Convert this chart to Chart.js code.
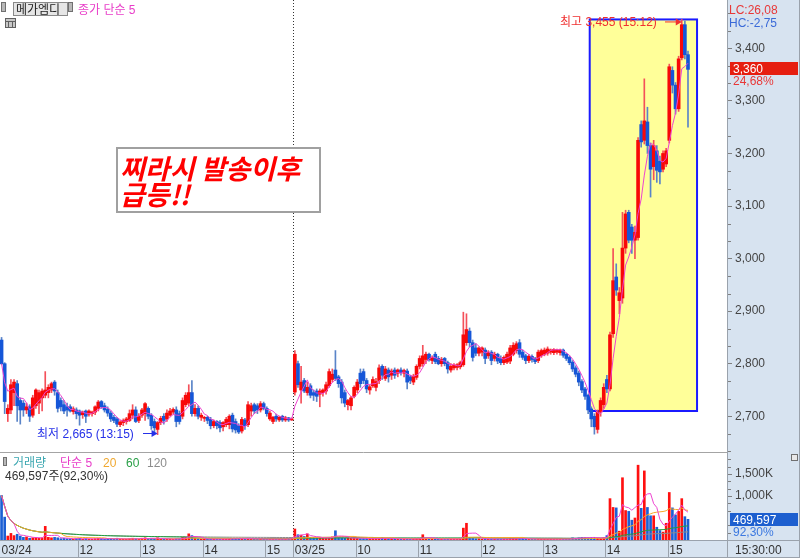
<!DOCTYPE html>
<html><head><meta charset="utf-8">
<script src="https://cdn.jsdelivr.net/npm/chart.js@4.4.1/dist/chart.umd.min.js"></script>
<style>html,body{margin:0;padding:0;background:#fff;overflow:hidden}canvas{display:block}</style>
</head><body>
<canvas id="c" width="800" height="558"></canvas>
<script>
// ---------------- DATA ----------------
const day1Times = [
'10:45','10:48','10:51','10:54','10:57',
'11:00','11:03','11:06','11:09','11:12','11:15','11:18','11:21','11:24','11:27','11:30','11:33','11:36','11:39','11:42','11:45','11:48','11:51','11:54','11:57',
'12:00','12:03','12:06','12:09','12:12','12:15','12:18','12:21','12:24','12:27','12:30','12:33','12:36','12:39','12:42','12:45','12:48','12:51','12:54','12:57',
'13:00','13:03','13:06','13:09','13:12','13:15','13:18','13:21','13:24','13:27','13:30','13:33','13:36','13:39','13:42','13:45','13:48','13:51','13:54','13:57',
'14:00','14:03','14:06','14:09','14:12','14:15','14:18','14:21','14:24','14:27','14:30','14:33','14:36','14:39','14:42','14:45','14:48','14:51','14:54','14:57',
'15:00','15:03','15:06','15:09','15:12','15:15','15:18','15:20','15:30'];
const day2Times = [
'09:00','09:03','09:06','09:09','09:12','09:15','09:18','09:21','09:24','09:27','09:30','09:33','09:36','09:39','09:42','09:45','09:48','09:51','09:54','09:57',
'10:00','10:03','10:06','10:09','10:12','10:15','10:18','10:21','10:24','10:27','10:30','10:33','10:36','10:39','10:42','10:45','10:48','10:51','10:54','10:57',
'11:00','11:03','11:06','11:09','11:12','11:15','11:18','11:21','11:24','11:27','11:30','11:33','11:36','11:39','11:42','11:45','11:48','11:51','11:54','11:57',
'12:00','12:03','12:06','12:09','12:12','12:15','12:18','12:21','12:24','12:27','12:30','12:33','12:36','12:39','12:42','12:45','12:48','12:51','12:54','12:57',
'13:00','13:03','13:06','13:09','13:12','13:15','13:18','13:21','13:24','13:27','13:30','13:33','13:36','13:39','13:42','13:45','13:48','13:51','13:54','13:57',
'14:00','14:03','14:06','14:09','14:12','14:15','14:18','14:21','14:24','14:27','14:30','14:33','14:36','14:39','14:42','14:45','14:48','14:51','14:54','14:57',
'15:00','15:03','15:06','15:09','15:12','15:15','15:18'];

// [open, high, low, close]
const day1Candles = [
[2845,2850,2798,2800],[2800,2802,2705,2728],[2705,2722,2690,2715],[2712,2770,2705,2760],[2745,2770,2720,2765],
[2762,2768,2690,2720],[2730,2735,2685,2712],[2725,2730,2700,2712],[2712,2725,2705,2718],[2718,2722,2690,2700],
[2702,2740,2698,2735],[2720,2752,2715,2750],[2725,2750,2705,2745],[2735,2752,2710,2748],[2740,2785,2735,2750],
[2745,2760,2735,2755],[2750,2765,2745,2762],[2765,2768,2740,2748],[2745,2750,2708,2715],[2730,2735,2710,2718],
[2722,2730,2705,2710],[2718,2725,2700,2712],[2718,2722,2708,2710],[2709,2718,2704,2714],[2712,2716,2695,2705],
[2710,2712,2683,2702],[2703,2710,2696,2708],[2710,2712,2688,2700],[2704,2712,2700,2710],[2705,2710,2700,2708],
[2708,2720,2703,2718],[2715,2730,2710,2727],[2728,2730,2715,2718],[2720,2725,2708,2712],[2713,2718,2700,2706],
[2706,2710,2690,2695],[2698,2702,2688,2692],[2695,2698,2680,2685],[2684,2692,2680,2689],[2688,2695,2682,2692],
[2690,2698,2685,2695],[2692,2712,2690,2705],[2702,2722,2695,2712],[2712,2718,2688,2690],[2692,2705,2688,2700],
[2702,2715,2698,2712],[2705,2726,2692,2724],[2715,2718,2695,2700],[2702,2705,2675,2682],[2690,2695,2670,2678],
[2675,2690,2665,2688],[2688,2700,2684,2696],[2700,2705,2685,2692],[2695,2712,2690,2706],[2702,2715,2700,2710],
[2708,2716,2704,2713],[2712,2718,2680,2690],[2705,2710,2685,2690],[2700,2735,2695,2730],[2722,2745,2718,2740],
[2725,2760,2720,2745],[2745,2768,2700,2705],[2705,2722,2700,2715],[2715,2720,2695,2700],[2698,2706,2692,2702],
[2696,2700,2690,2698],[2698,2700,2686,2692],[2694,2698,2676,2682],[2682,2693,2678,2690],[2690,2692,2676,2682],
[2688,2692,2670,2678],[2680,2690,2672,2688],[2684,2698,2680,2694],[2684,2703,2676,2700],[2702,2706,2670,2676],
[2690,2695,2668,2674],[2682,2686,2667,2670],[2672,2698,2668,2694],[2693,2696,2675,2682],[2684,2728,2680,2722],
[2710,2725,2700,2720],[2722,2725,2705,2710],[2720,2724,2705,2712],[2712,2728,2708,2724],[2724,2727,2712,2715],
[2715,2718,2700,2705],[2695,2710,2692,2706],[2690,2700,2686,2698],[2700,2704,2690,2695],[2693,2700,2690,2698],
[2700,2702,2690,2693],[2693,2700,2690,2697],[2697,2698,2690,2693],[2693,2697,2692,2695]];

const day2Candles = [
[2746,2825,2740,2818],[2800,2805,2755,2760],[2750,2795,2725,2765],[2768,2772,2745,2748],[2745,2765,2740,2755],
[2758,2762,2735,2740],[2745,2750,2730,2740],[2748,2752,2728,2738],[2742,2752,2718,2748],[2745,2752,2738,2750],
[2748,2765,2742,2760],[2758,2790,2755,2785],[2770,2790,2765,2780],[2788,2825,2768,2772],[2775,2778,2755,2762],
[2765,2770,2725,2735],[2745,2750,2718,2725],[2722,2732,2712,2730],[2720,2738,2712,2735],[2738,2758,2735,2755],
[2750,2770,2745,2765],[2782,2790,2755,2762],[2785,2790,2762,2768],[2768,2772,2745,2752],[2750,2760,2742,2756],
[2758,2775,2755,2770],[2755,2772,2748,2766],[2768,2798,2762,2792],[2795,2798,2770,2778],[2772,2795,2768,2790],
[2788,2792,2765,2775],[2778,2790,2770,2786],[2788,2792,2772,2778],[2782,2790,2775,2788],[2788,2792,2778,2783],
[2782,2790,2775,2787],[2786,2790,2752,2765],[2775,2778,2762,2768],[2765,2780,2760,2776],[2774,2798,2770,2795],
[2795,2815,2790,2810],[2800,2835,2795,2815],[2808,2822,2800,2818],[2818,2820,2805,2808],[2806,2815,2800,2812],
[2818,2822,2800,2804],[2810,2814,2798,2800],[2800,2812,2795,2808],[2810,2812,2796,2800],[2802,2805,2782,2790],
[2788,2800,2784,2795],[2792,2800,2788,2797],[2793,2800,2788,2798],[2794,2805,2790,2802],[2798,2898,2795,2855],
[2840,2895,2835,2865],[2862,2868,2832,2840],[2840,2845,2805,2812],[2830,2838,2815,2820],[2820,2832,2815,2830],
[2822,2832,2815,2830],[2826,2830,2800,2810],[2815,2825,2810,2822],[2822,2825,2798,2806],[2810,2822,2805,2818],
[2818,2820,2800,2805],[2810,2815,2798,2802],[2802,2815,2798,2812],[2803,2822,2800,2818],[2805,2835,2800,2830],
[2818,2840,2815,2835],[2825,2842,2820,2838],[2840,2846,2812,2818],[2822,2826,2808,2812],[2815,2818,2800,2806],
[2806,2818,2802,2814],[2814,2817,2803,2808],[2810,2812,2800,2804],[2806,2826,2802,2822],[2815,2828,2812,2825],
[2818,2830,2815,2826],[2820,2832,2816,2828],[2822,2828,2818,2826],[2821,2829,2817,2827],[2822,2828,2818,2826],
[2821,2828,2816,2826],[2826,2828,2812,2816],[2818,2820,2806,2810],[2812,2815,2798,2802],[2803,2806,2785,2790],
[2792,2796,2775,2780],[2782,2786,2758,2765],[2766,2770,2745,2750],[2752,2755,2732,2738],[2740,2742,2705,2712],
[2714,2718,2680,2695],[2700,2705,2666,2680],[2675,2712,2668,2708],[2708,2735,2700,2730],[2722,2762,2715,2755],
[2770,2778,2745,2752],[2752,2860,2748,2855],[2857,3019,2850,2958],[2965,2990,2930,2940],[2920,2945,2895,2935],
[2925,3088,2915,3020],[3020,3092,3010,3085],[3088,3092,3030,3035],[3060,3065,3010,3035],[3035,3062,3000,3050],
[3040,3230,3035,3225],[3255,3262,3212,3222],[3225,3342,3218,3262],[3260,3288,3200,3215],[3215,3220,3117,3170],
[3175,3225,3150,3215],[3205,3215,3145,3168],[3185,3195,3142,3165],[3170,3205,3165,3200],[3180,3210,3175,3205],
[3225,3370,3220,3365],[3358,3365,3315,3330],[3330,3335,3275,3285],[3285,3385,3280,3380],[3382,3455,3378,3445],
[3445,3452,3380,3388],[3388,3395,3250,3360]];

// volume in thousands of shares
const day1Volume = [
1010,520,90,150,100,130,90,60,70,40,
50,60,40,50,310,60,50,60,50,30,
40,30,30,20,30,40,20,30,20,20,
30,40,30,20,30,30,20,40,20,20,
20,30,40,30,20,40,50,30,40,30,
50,20,20,20,20,20,30,30,60,60,
140,100,40,30,20,20,20,20,20,20,
20,20,20,30,30,30,30,30,20,40,
30,20,20,20,20,20,20,20,20,20,
20,20,30,50];
const day2Volume = [
250,120,110,80,140,60,50,40,60,40,
50,60,70,210,60,50,40,40,40,50,
40,30,30,30,30,30,30,40,50,30,
30,30,30,20,20,20,30,20,20,30,
40,120,40,30,20,20,20,20,20,30,
20,20,20,30,270,380,60,40,30,30,
20,30,20,20,20,20,20,20,20,30,
30,30,30,40,20,20,20,20,30,20,
20,20,20,20,20,20,20,20,30,50,
40,50,60,60,50,60,60,40,30,50,
100,940,740,730,200,1415,670,650,450,500,
1700,720,1570,740,550,550,290,215,180,380,
1080,730,570,650,940,530,469.597];

const priceTicks = [2700,2800,2900,3000,3100,3200,3300,3400];
const volumeTicks = [1000000,1500000];
const xTickLabels = [['03/24 10:45','03/24'],['03/24 12:00','12'],['03/24 13:00','13'],['03/24 14:00','14'],['03/24 15:00','15'],
  ['03/25 09:00','03/25'],['03/25 10:00','10'],['03/25 11:00','11'],['03/25 12:00','12'],['03/25 13:00','13'],['03/25 14:00','14'],['03/25 15:00','15']];
const highlightBox = {fromIdx:189, toIdx:223.4, top:3455, bottom:2710};

// ---------------- BUILD ----------------
const padSlots = 12;
const categories = day1Times.map(t=>'03/24 '+t).concat(day2Times.map(t=>'03/25 '+t));
const labels = categories.concat(Array.from({length:padSlots},(_, i)=>'pad'+i));
const candles = day1Candles.concat(day2Candles);
const volumes = day1Volume.concat(day2Volume).map(v=>v*1000);
const closes = candles.map(c=>c[3]);
function sma(arr,n){return arr.map((_,i)=>{const s=arr.slice(Math.max(0,i-n+1),i+1);return s.reduce((a,b)=>a+b,0)/s.length;});}

const UP='#f80808', DOWN='#1556d8';
const isUp = candles.map(c=>c[3]>=c[0]);
const bodyColors = isUp.map(u=>u?UP:DOWN);
const wickColors = isUp.map(u=>u?'#f4505a':'#5a84c8');
const volColors = isUp.map(u=>u?'#ff1010':'#1c5fd4');

const panelBg='#d7e3f0';
const F12='12px "Liberation Sans","Noto Sans CJK KR",sans-serif';
Chart.defaults.font.family='"Liberation Sans","Noto Sans CJK KR",sans-serif';
Chart.defaults.font.size=12;

const overlay={
  id:'overlay',
  beforeDraw(chart){
    const ctx=chart.ctx; ctx.save();
    ctx.fillStyle='#fff'; ctx.fillRect(0,0,800,558);
    ctx.fillStyle=panelBg; ctx.fillRect(727,0,73,558); ctx.fillRect(0,540,727,18);
    ctx.restore();
  },
  beforeDatasetsDraw(chart){
    const ctx=chart.ctx, X=chart.scales.x, Y=chart.scales.y;
    const w=(X.right-X.left)/labels.length;
    const edge=i=>X.left+i*w;
    ctx.save();
    const l=edge(highlightBox.fromIdx), r=edge(highlightBox.toIdx);
    const t=Y.getPixelForValue(highlightBox.top), b=Y.getPixelForValue(highlightBox.bottom);
    ctx.fillStyle='#ffff99'; ctx.fillRect(l,t,r-l,b-t);
    ctx.strokeStyle='#1a1aff'; ctx.lineWidth=2; ctx.strokeRect(l,t,r-l,b-t);
    // day boundary
    const dx=Math.round(edge(categories.indexOf('03/25 09:00')))+0.5;
    ctx.strokeStyle='#333'; ctx.lineWidth=1; ctx.setLineDash([1,2]);
    ctx.beginPath(); ctx.moveTo(dx,0); ctx.lineTo(dx,540); ctx.stroke();
    ctx.restore();
  },
  afterDraw(chart){
    const ctx=chart.ctx, X=chart.scales.x, Y=chart.scales.y, V=chart.scales.v;
    const w=(X.right-X.left)/labels.length;
    const edge=i=>X.left+i*w;
    ctx.save();
    // panel separators
    ctx.strokeStyle='#a4a4a4'; ctx.lineWidth=1;
    ctx.beginPath(); ctx.moveTo(0,452.5); ctx.lineTo(727,452.5); ctx.stroke();
    ctx.strokeStyle='#9aa2ac';
    ctx.beginPath(); ctx.moveTo(0,540.5); ctx.lineTo(800,540.5); ctx.stroke();
    ctx.beginPath(); ctx.moveTo(727.5,0); ctx.lineTo(727.5,558); ctx.stroke();
    ctx.beginPath(); ctx.moveTo(799.5,0); ctx.lineTo(799.5,558); ctx.stroke();
    ctx.beginPath(); ctx.moveTo(0,557.5); ctx.lineTo(800,557.5); ctx.stroke();
    // x separators in bottom bar
    xTickLabels.forEach(([cat])=>{
      const i=categories.indexOf(cat); if(i<=0) return;
      const px=Math.round(edge(i))+0.5;
      ctx.beginPath(); ctx.moveTo(px,541); ctx.lineTo(px,558); ctx.stroke();
    });
    // minor ticks
    ctx.strokeStyle='#808080';
    for(let k=-3;k<=30;k++){
      const v=2700+k*100/3; if(k%3===0) continue;
      if(v<Y.min||v>Y.max) continue;
      const py=Math.round(Y.getPixelForValue(v))+0.5;
      ctx.beginPath(); ctx.moveTo(728,py); ctx.lineTo(731,py); ctx.stroke();
    }
    for(let k=1;k<12;k++){
      const v=k*1000000/6; if(k%3===0) continue;
      const py=Math.round(V.getPixelForValue(v))+0.5;
      if(py<455) continue;
      ctx.beginPath(); ctx.moveTo(728,py); ctx.lineTo(731,py); ctx.stroke();
    }
    const txt=(s,x,y,c,f)=>{ctx.font=f||F12;ctx.fillStyle=c;ctx.textAlign='left';ctx.textBaseline='alphabetic';ctx.fillText(s,x,y);};
    // header
    ctx.fillStyle='#b8b8b8'; ctx.fillRect(2,3,3,8); ctx.strokeStyle='#707070'; ctx.strokeRect(1.5,2.5,4,9);
    ctx.fillStyle='#e6e6e6'; ctx.fillRect(13,2,55,14); ctx.strokeStyle='#8a8a8a'; ctx.strokeRect(13.5,2.5,54,13);
    txt('메가엠디',16,14,'#222');
    ctx.fillStyle='#b8b8b8'; ctx.fillRect(69,3,3,8); ctx.strokeStyle='#707070'; ctx.strokeRect(68.5,2.5,4,9);
    txt('종가 단순 5',78,14,'#e83cc8');
    ctx.fillStyle='#c8c8c8'; ctx.fillRect(5,18,11,10); ctx.strokeStyle='#606060'; ctx.strokeRect(5.5,18.5,10,9);
    ctx.beginPath(); ctx.moveTo(5.5,21.5); ctx.lineTo(15.5,21.5); ctx.moveTo(8.5,21.5); ctx.lineTo(8.5,27.5); ctx.moveTo(12.5,21.5); ctx.lineTo(12.5,27.5); ctx.stroke();
    // volume legend
    ctx.fillStyle='#b8b8b8'; ctx.fillRect(4,458,2,7); ctx.strokeStyle='#707070'; ctx.strokeRect(3.5,457.5,3,8);
    txt('거래량',13,467,'#3aa6b0'); txt('단순 5',60,467,'#e83cc8'); txt('20',103,467,'#f0a830');
    txt('60',126,467,'#2aa048'); txt('120',147,467,'#8c8c8c');
    txt('469,597주(92,30%)',5,480,'#333');
    // annotation box
    ctx.fillStyle='#fff'; ctx.fillRect(117,148,203,64);
    ctx.strokeStyle='#a0a0a0'; ctx.lineWidth=2; ctx.strokeRect(117,148,203,64); ctx.lineWidth=1;
    txt('찌라시 발송이후',120,179,'#ff0000','italic bold 27px "Noto Sans CJK KR"');
    txt('급등!!',120,205,'#ff0000','italic bold 27px "Noto Sans CJK KR"');
    // high / low notes
    const hiIdx=candles.findIndex(c=>c[1]===3455);
    const hx=X.getPixelForValue(hiIdx), hy=Y.getPixelForValue(3455)+2;
    txt('최고 3,455 (15:12)',560,26,'#f03030');
    ctx.strokeStyle='#f03030'; ctx.fillStyle='#f03030';
    ctx.beginPath(); ctx.moveTo(665,hy+0.5); ctx.lineTo(hx-4,hy+0.5); ctx.stroke();
    ctx.beginPath(); ctx.moveTo(hx,hy+0.5); ctx.lineTo(hx-6,hy-3); ctx.lineTo(hx-6,hy+4); ctx.closePath(); ctx.fill();
    const loIdx=candles.findIndex(c=>c[2]===2665);
    const lx=X.getPixelForValue(loIdx), ly=433;
    txt('최저 2,665 (13:15)',37,438,'#2530e8');
    ctx.strokeStyle='#2530e8'; ctx.fillStyle='#2530e8';
    ctx.beginPath(); ctx.moveTo(143,ly+0.5); ctx.lineTo(lx-4,ly+0.5); ctx.stroke();
    ctx.beginPath(); ctx.moveTo(lx,ly+0.5); ctx.lineTo(lx-6,ly-3); ctx.lineTo(lx-6,ly+4); ctx.closePath(); ctx.fill();
    // right panel texts
    txt('LC:26,08',729,14,'#e83838'); txt('HC:-2,75',729,27,'#3a6ad8');
    const cy=Math.round(Y.getPixelForValue(closes[closes.length-1]));
    ctx.fillStyle='#e61e10'; ctx.fillRect(730,cy-7,68,13);
    txt('3,360',733,cy+4,'#fff'); txt('24,68%',733,cy+16,'#e83838');
    const vy=Math.round(V.getPixelForValue(volumes[volumes.length-1]));
    ctx.fillStyle='#1d5fcf'; ctx.fillRect(730,vy-6,68,13);
    txt('469,597',733,vy+5,'#fff'); txt('92,30%',733,vy+17,'#3b78e0');
    ctx.fillStyle='#e8e8e8'; ctx.fillRect(791,454,7,7); ctx.strokeStyle='#707070'; ctx.strokeRect(791.5,454.5,6,6);
    txt('15:30:00',735,554,'#333');
    ctx.restore();
  }
};

const nullPad = a => a;
const chart = new Chart(document.getElementById('c'), {
  type:'bar',
  data:{
    labels,
    datasets:[
      {label:'wick', data:candles.map(c=>[c[2],c[1]]), backgroundColor:wickColors, barThickness:1, grouped:false, yAxisID:'y', order:4, borderWidth:0},
      {label:'body', data:candles.map(c=>{const lo=Math.min(c[0],c[3]),hi=Math.max(c[0],c[3]);return hi-lo<1?[lo-0.8,hi+0.8]:[lo,hi];}), backgroundColor:bodyColors, barThickness:3, grouped:false, yAxisID:'y', order:3, borderWidth:0},
      {type:'line', label:'종가 단순 5', data:sma(closes,5), borderColor:'#ee44d0', borderWidth:1, pointRadius:0, tension:0, yAxisID:'y', order:1},
      {label:'거래량', data:volumes, backgroundColor:volColors, barThickness:2, grouped:false, yAxisID:'v', order:3, borderWidth:0},
      {type:'line', label:'단순 5', data:sma(volumes,5), borderColor:'#ee44d0', borderWidth:1, pointRadius:0, tension:0, yAxisID:'v', order:1},
      {type:'line', label:'20', data:sma(volumes,20), borderColor:'#f8a828', borderWidth:1, pointRadius:0, tension:0, yAxisID:'v', order:1},
      {type:'line', label:'60', data:sma(volumes,60), borderColor:'#22a040', borderWidth:1, pointRadius:0, tension:0, yAxisID:'v', order:1},
      {type:'line', label:'120', data:sma(volumes,120), borderColor:'#8c8c8c', borderWidth:1, pointRadius:0, tension:0, yAxisID:'v', order:1}
    ]
  },
  options:{
    responsive:false, animation:false, events:[],
    layout:{padding:0},
    plugins:{legend:{display:false}, tooltip:{enabled:false}},
    scales:{
      x:{type:'category', position:'bottom', offset:true,
        grid:{display:false, drawTicks:false}, border:{display:false},
        ticks:{autoSkip:false, maxRotation:0, minRotation:0, align:'start', padding:3, color:'#333', font:{size:12},
          callback:function(v){const lbl=this.getLabelForValue(v);const m=xTickLabels.find(t=>t[0]===lbl);return m?m[1]:'';}},
        afterFit(s){s.height=18; s.paddingLeft=0; s.paddingRight=0;}
      },
      y:{type:'linear', position:'right', stack:'pane', stackWeight:452, min:2632, max:3492,
        grid:{drawOnChartArea:false, drawTicks:true, tickLength:5, color:'#808080'},
        border:{display:true, color:'#9a9a9a'},
        ticks:{padding:3, color:'#444', font:{size:12}, callback:v=>v.toLocaleString('en-US')},
        afterBuildTicks(s){s.ticks=priceTicks.map(v=>({value:v}));},
        afterFit(s){s.width=73; s.paddingTop=0; s.paddingBottom=0;}
      },
      v:{type:'linear', position:'right', stack:'pane', stackWeight:88, min:0, max:2000000,
        grid:{drawOnChartArea:false, drawTicks:true, tickLength:5, color:'#808080'},
        border:{display:true, color:'#9a9a9a'},
        ticks:{padding:3, color:'#444', font:{size:12}, callback:v=>(v/1000).toLocaleString('en-US')+'K'},
        afterBuildTicks(s){s.ticks=volumeTicks.map(v=>({value:v}));},
        afterFit(s){s.width=73; s.paddingTop=0; s.paddingBottom=0;}
      }
    }
  },
  plugins:[overlay]
});
</script>
</body></html>
